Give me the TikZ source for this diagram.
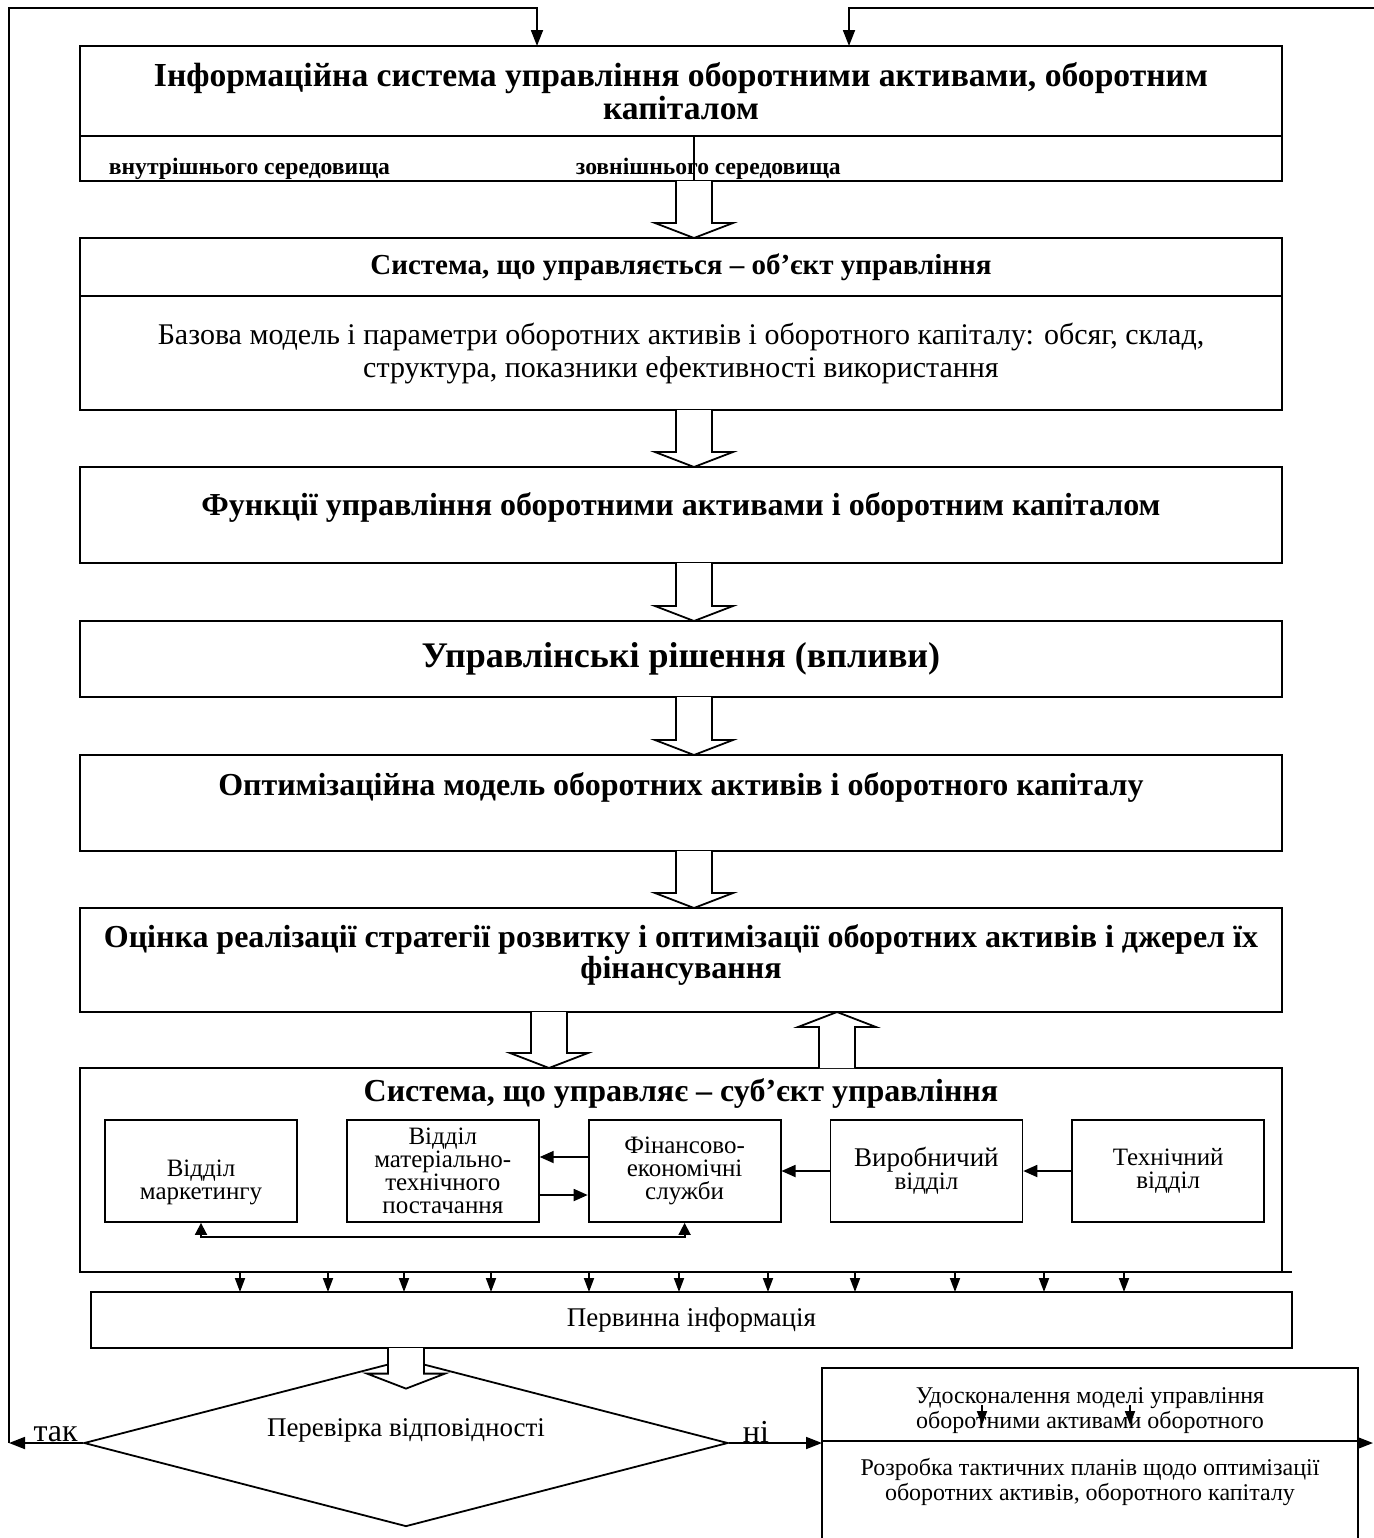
\documentclass[tikz,border=0pt]{standalone}
\usepackage{fontspec}
\setmainfont{Liberation Serif}
\usepackage{tikz}
\usetikzlibrary{shapes.geometric,arrows.meta,positioning,calc}

% hollow block arrow: tail, tip, head offset (-15 down, 15 up)
\newcommand{\hollowarr}[3]{%
  \draw[hollow] ($(#1)+(-18,0)$) -- ($(#2)+(-18,#3)$) -- ($(#2)+(-39,#3)$) -- (#2)
    -- ($(#2)+(39,#3)$) -- ($(#2)+(18,#3)$) -- ($(#1)+(18,0)$);}

\begin{document}
\begin{tikzpicture}[
  x=0.5pt, y=-0.5pt, line width=0.9pt,
  box/.style={draw, minimum width=601pt, inner sep=0pt, outer sep=0pt, align=center},
  part/.style={minimum width=601pt, inner sep=0pt, outer sep=0pt, align=center, anchor=north},
  head/.style={font=\fontsize{16}{15.5}\selectfont\bfseries},
  body/.style={font=\fontsize{15}{16.5}\selectfont},
  envtext/.style={font=\fontsize{11.8}{11}\selectfont\bfseries, inner sep=0pt},
  dept/.style={draw, minimum width=96pt, minimum height=51pt, inner sep=1pt, align=center, font=\fontsize{12.5}{11.5}\selectfont},
  small/.style={font=\fontsize{12}{12.5}\selectfont},
  arr/.style={-{Triangle[length=8pt,width=6pt]}},
  arrs/.style={-{Triangle[length=7pt,width=6pt]}},
  tick/.style={-{Triangle[length=7pt,width=5pt]}},
  hollow/.style={draw, fill=white},
  lbl/.style={font=\fontsize{13.5}{13}\selectfont, inner sep=1pt},
  yn/.style={font=\fontsize{16}{16}\selectfont, inner sep=0pt, above}
]
  \useasboundingbox (0,0) rectangle (1374,1538);
  \clip (0,0) rectangle (1374,1538);

  % upper chain of boxes
  \node[box, minimum height=45pt, head, font=\fontsize{16.8}{15}\selectfont\bfseries] (info) at (681,91) {Інформаційна система управління оборотними активами, оборотним\\капіталом};
  \node[part, minimum height=22.5pt] (env) at (info.south) {};
  \draw (info.south west) |- (env.south) -| (info.south east);
  \node[envtext, anchor=base west] (inner) at (108,174) {внутрішнього середовища};
  \node[envtext, anchor=base west] (outer) at (575,174) {зовнішнього середовища};
  \draw (env.north -| 694,0) -- (env.south -| 694,0);

  \node[box, minimum height=29pt, head, font=\fontsize{14.5}{15}\selectfont\bfseries] (obj) at (681,267) {Система, що управляється – об’єкт управління};
  \node[part, minimum height=57pt, body] (objbody) at (obj.south) {Базова модель і параметри оборотних активів і оборотного капіталу: обсяг, склад,\\структура, показники ефективності використання};
  \draw (obj.south west) |- (objbody.south) -| (obj.south east);
  \node[box, minimum height=48pt, head, text depth=11pt] (func) at (681,515) {Функції управління оборотними активами і оборотним капіталом};
  \node[box, minimum height=38pt, head, font=\fontsize{18}{18}\selectfont\bfseries] (dec) at (681,659) {Управлінські рішення (впливи)};
  \node[box, minimum height=48pt, head, text depth=19pt] (opt) at (681,803) {Оптимізаційна модель оборотних активів і оборотного капіталу};
  \node[box, minimum height=52pt, head, text depth=8pt] (eval) at (681,960) {Оцінка реалізації стратегії розвитку і оптимізації оборотних активів і джерел їх\\фінансування};

  % subject of management
  \node[box, minimum height=102pt] (subj) at (681,1170) {};
  \node[head] (subjt) at (681,1093) {Система, що управляє – суб’єкт управління};
  \node[dept, text height=31pt] (mkt) at (201,1171) {Відділ\\маркетингу};
  \node[dept, right=24pt of mkt] (mts) {Відділ\\матеріально-\\технічного\\постачання};
  \node[dept, right=24pt of mts] (fin) {Фінансово-\\економічні\\служби};
  \node[dept, right=24pt of fin] (prod) {{\fontsize{13.5}{13}\selectfont Виробничий}\\відділ};
  \node[dept, right=24pt of prod] (tech) {Технічний\\відділ};
  \draw[arrs] ([yshift=7pt]fin.west) -- ([yshift=7pt]mts.east);
  \draw[arrs] ([yshift=-12pt]mts.east) -- ([yshift=-12pt]fin.west);
  \draw[arrs] (prod.west) -- (fin.east);
  \draw[arrs] (tech.west) -- (prod.east);
  \draw[{Triangle[length=6pt,width=6pt]}-{Triangle[length=6pt,width=6pt]}] (mkt.south) -- ++(0,14) -| (fin.south);
  \draw (subj.south east) -- ++(10,0);

  \node[box, minimum width=600.5pt, minimum height=28pt, lbl] (prim) at (691.5,1320) {Первинна інформація};
  \foreach \x in {240,328,404,491,589,679,768,855,955,1044,1124}
    \draw[tick] (\x,0 |- subj.south) -- (\x,0 |- prim.north);

  % check and improvement
  \node[diamond, draw, aspect=3.86, minimum width=322pt, minimum height=83.5pt, inner sep=0pt, text depth=15pt, lbl] (check) at (406,1443) {Перевірка відповідності};
  \node[draw, minimum width=268pt, minimum height=36.5pt, inner sep=0pt, outer sep=0pt, align=center, small, text height=27pt] (upd) at (1090,1404.5) {Удосконалення моделі управління\\оборотними активами оборотного};
  \node[minimum width=268pt, minimum height=50pt, inner sep=0pt, outer sep=0pt, align=center, small, anchor=north, text depth=12pt] (tac) at (upd.south) {Розробка тактичних планів щодо оптимізації\\оборотних активів, оборотного капіталу};
  \draw (upd.south west) |- (tac.south) -| (upd.south east);
  \coordinate (m1) at (982,1405);
  \coordinate (m2) at (1130,1405);
  \draw[tick] (m1) -- ++(0,20);
  \draw[tick] (m2) -- ++(0,20);

  % block arrows
  \hollowarr{env.south -| 694,0}{obj.north -| 694,0}{-15}
  \hollowarr{objbody.south -| 694,0}{func.north -| 694,0}{-15}
  \hollowarr{func.south -| 694,0}{dec.north -| 694,0}{-15}
  \hollowarr{dec.south -| 694,0}{opt.north -| 694,0}{-15}
  \hollowarr{opt.south -| 694,0}{eval.north -| 694,0}{-15}
  \hollowarr{eval.south -| 549,0}{subj.north -| 549,0}{-15}
  \hollowarr{subj.north -| 837,0}{eval.south -| 837,0}{15}
  \coordinate (chkin) at ([yshift=-15pt]check.north);
  \hollowarr{prim.south -| 406,0}{chkin}{-15}

  % feedback loops
  \coordinate (yes) at (9,0 |- check.west);
  \coordinate (out) at (1373,0 |- check.east);
  \draw[arr] (check.west) -- node[yn, pos=0.37]{так} (yes);
  \draw[arr] (yes) |- (537,8) -- (537,0 |- info.north);
  \draw[arr] (1374,8) -| (849,0 |- info.north);
  \draw[arr] (check.east) -- node[yn, pos=0.29]{ні} (check.east -| upd.west);
  \draw[arr] (check.east -| upd.east) -- (out);
\end{tikzpicture}
\end{document}
